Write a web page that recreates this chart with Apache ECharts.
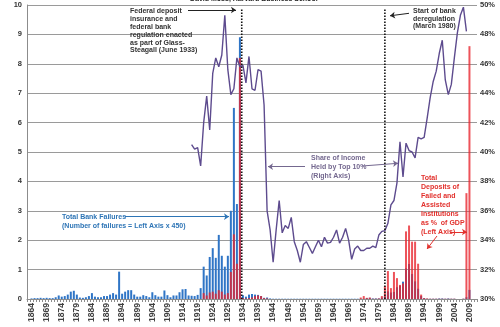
<!DOCTYPE html>
<html><head><meta charset="utf-8">
<script src="https://cdn.jsdelivr.net/npm/echarts@6/dist/echarts.min.js"></script>
<style>html,body{margin:0;padding:0;background:#fff}#c{width:500px;height:327px}</style>
</head><body><div id="c"></div>
<script>
// ---- axis categories ----
const firstYear = 1863, lastYear = 2011;
const years = [];
for (let y = firstYear; y <= lastYear; y++) years.push(String(y));
const leftTicks = [0, 10, 1];      // min, max, step (left axis)
const rightTicks = [30, 50, 2];    // min, max, step (right axis, %)

// ---- Total bank failures (number / 450), 1864..2009 ----
const failuresStart = 1864;
const bankFailures = [
  0.02,0.03,0.03,0.04,0.03,0.04,0.03,0.03,0.06,0.12, // 1864-1873
  0.08,0.10,0.15,0.25,0.28,0.15,0.05,0.04,0.06,0.10, // 1874-1883
  0.20,0.08,0.06,0.06,0.10,0.10,0.15,0.20,0.15,0.93, // 1884-1893
  0.18,0.25,0.30,0.30,0.15,0.08,0.08,0.13,0.10,0.06, // 1894-1903
  0.23,0.13,0.08,0.08,0.29,0.13,0.06,0.12,0.12,0.23, // 1904-1913
  0.33,0.34,0.12,0.11,0.10,0.14,0.37,1.10,0.80,1.43, // 1914-1923
  1.73,1.40,2.18,1.47,1.10,1.47,3.00,6.50,3.23,8.90, // 1924-1933
  0.13,0.08,0.15,0.17,0.15,0.14,0.10,0.04,0.05,0.02, // 1934-1943
  0.01,0.01,0.01,0.01,0.01,0.01,0.01,0.01,0.01,0.01, // 1944-1953
  0.01,0.01,0.01,0.01,0.01,0.01,0.01,0.01,0.01,0.01, // 1954-1963
  0.01,0.01,0.01,0.01,0.01,0.01,0.01,0.01,0.01,0.01, // 1964-1973
  0.01,0.03,0.04,0.02,0.02,0.02,0.05,0.09,0.26,0.22, // 1974-1983
  0.24,0.40,0.45,0.59,1.04,1.19,0.85,0.60,0.35,0.10, // 1984-1993
  0.03,0.01,0.01,0.01,0.01,0.02,0.02,0.01,0.02,0.01, // 1994-2003
  0.01,0.00,0.00,0.01,0.06,0.31                      // 2004-2009
];

// ---- Deposits of failed & assisted institutions, % of GDP, 1921..2009 ----
const depositsStart = 1921;
const failedDeposits = [
  0.20,0.12,0.22,0.25,0.18,0.30,0.25,0.15,0.20,0.92, // 1921-1930
  2.20,1.20,8.20,0.03,0.02,0.03,0.05,0.10,0.12,0.10, // 1931-1940
  0.03,0.02,0.00,0.00,0.00,0.00,0.00,0.00,0.00,0.00, // 1941-1950
  0.00,0.00,0.00,0.00,0.00,0.00,0.00,0.00,0.00,0.00, // 1951-1960
  0.00,0.00,0.00,0.00,0.00,0.00,0.00,0.00,0.00,0.00, // 1961-1970
  0.00,0.00,0.05,0.10,0.04,0.05,0.01,0.01,0.02,0.10, // 1971-1980
  0.44,0.95,0.37,0.92,0.71,0.48,0.53,2.30,2.50,1.95, // 1981-1990
  1.95,1.20,0.15,0.03,0.02,0.01,0.01,0.01,0.01,0.01, // 1991-2000
  0.01,0.01,0.01,0.01,0.00,0.00,0.01,3.60,8.60       // 2001-2009
];

// ---- Share of income held by top 10% (%), 1917..2008 ----
const incomeStart = 1917;
const topTenShare = [
  40.5,40.2,40.3,39.05,42.0,43.8,41.5,45.35,46.4,45.8, // 1917-1926
  46.6,49.3,45.6,43.9,44.3,46.4,45.8,45.9,44.7,46.5,   // 1927-1936
  44.3,44.2,45.6,45.5,43.2,36.0,34.7,32.5,34.7,36.7,   // 1937-1946
  34.5,35.0,34.8,35.55,33.9,33.3,32.5,33.7,33.9,33.5,  // 1947-1956
  33.1,33.55,34.0,33.55,34.2,33.8,33.85,34.2,34.7,33.8,// 1957-1966
  34.2,34.8,34.0,32.7,33.4,33.6,33.3,33.3,33.45,33.45, // 1967-1976
  33.6,33.5,34.35,34.6,34.65,35.15,36.4,36.7,37.9,40.7,// 1977-1986
  38.3,40.6,40.1,40.0,39.6,41.0,40.9,41.0,42.3,43.7,   // 1987-1996
  44.8,45.5,46.7,47.6,44.9,43.9,44.6,46.4,48.1,49.3,   // 1997-2006
  49.85,48.2                                          // 2007-2008
];

// ---- policy dates (dotted lines) ----
const policyYears = [1933.6, 1981.0];

function align(start, arr) {
  return years.map(y => {
    const i = Number(y) - start;
    return (i >= 0 && i < arr.length) ? arr[i] : null;
  });
}

const FONT = '"Liberation Sans", Arial, sans-serif';
const chart = echarts.init(document.getElementById('c'), null, {renderer: 'canvas'});

function arrow(x1, y1, x2, y2, color) {
  return [
    {x: x1, y: y1, symbol: 'none', lineStyle: {color: color, width: 1, type: 'solid'}},
    {x: x2, y: y2, symbol: 'arrow', symbolSize: 5}
  ];
}

const option = {
  animation: false,
  backgroundColor: '#fff',
  grid: {left: 27, right: 23, top: 5, bottom: 28, containLabel: false},
  xAxis: [{
    type: 'category', data: years, boundaryGap: true,
    axisLine: {lineStyle: {color: '#8c8c8c', width: 1}},
    axisTick: {show: true, interval: 0, length: 3, lineStyle: {color: '#8c8c8c'}},
    axisLabel: {
      interval: (i, v) => (Number(v) - 1864) % 5 === 0,
      rotate: 90, fontSize: 8.5, fontWeight: 'bold', color: '#404040',
      fontFamily: FONT, margin: 4
    },
    splitLine: {show: false}
  }, {
    type: 'value', min: firstYear - 0.5, max: lastYear + 0.5, show: false
  }],
  yAxis: [{
    type: 'value', min: leftTicks[0], max: leftTicks[1], interval: leftTicks[2],
    position: 'left',
    axisLine: {show: true, lineStyle: {color: '#8c8c8c'}},
    axisTick: {show: false},
    axisLabel: {fontSize: 7.5, fontWeight: 'bold', color: '#333', fontFamily: FONT, margin: 5},
    splitLine: {lineStyle: {color: '#9a9a9a', width: 1}}
  }, {
    type: 'value', min: rightTicks[0], max: rightTicks[1], interval: rightTicks[2],
    position: 'right',
    axisLine: {show: false}, axisTick: {show: false},
    axisLabel: {formatter: '{value}%', fontSize: 7.5, fontWeight: 'bold', color: '#333', fontFamily: FONT, margin: 3},
    splitLine: {show: false}
  }],
  series: [{
    name: 'Total Bank Failures', type: 'bar', xAxisIndex: 0, yAxisIndex: 0,
    data: align(failuresStart, bankFailures), barWidth: 2,
    itemStyle: {color: '#2f75c6'}
  }, {
    name: 'Deposits % GDP', type: 'bar', xAxisIndex: 0, yAxisIndex: 0,
    data: align(depositsStart, failedDeposits), barWidth: 2, barGap: '-100%',
    itemStyle: {color: '#e8232c', opacity: 0.78}
  }, {
    name: 'Top 10% share', type: 'line', xAxisIndex: 0, yAxisIndex: 1,
    data: align(incomeStart, topTenShare), showSymbol: false, symbol: 'none',
    connectNulls: false,
    lineStyle: {color: '#5d4b8e', width: 1.4}, z: 5
  }].concat(policyYears.map((py, k) => ({
    name: 'policy' + k, type: 'line', xAxisIndex: 1, yAxisIndex: 0,
    data: [[py, 0], [py, 9.9]], showSymbol: false, symbol: 'none',
    lineStyle: {color: '#111', width: 1.6, type: [1.6, 1.4]}, z: 6,
    markLine: k === 0 ? {
      silent: true, animation: false, symbol: ['none', 'arrow'], symbolSize: 5,
      label: {show: false},
      data: [
        arrow(188, 10, 236, 10, '#222'),
        arrow(409, 13.3, 390, 15.8, '#222'),
        arrow(305, 166.7, 268, 166.7, '#74688f'),
        arrow(362, 166, 398, 163.3, '#74688f'),
        arrow(125, 216.7, 229, 216.7, '#2e75b6'),
        arrow(450, 232, 467, 232, '#e2312d'),
        arrow(437, 236, 427, 249, '#e2312d')
      ]
    } : undefined
  })))
};
chart.setOption(option);

const txt = (left, top, text, color, size, lh) => ({
  type: 'text', left: left, top: top, silent: true, z: 100,
  style: {text: text, fill: color, font: 'bold ' + size + 'px ' + FONT, lineHeight: lh}
});
chart.setOption({graphic: [
  txt(190, -5, 'David Moss, Harvard Business School', '#222', 7, 8),
  txt(130, 7.5, 'Federal deposit\ninsurance and\nfederal bank\nregulation enacted\nas part of Glass-\nSteagall (June 1933)', '#333', 7, 7.8),
  txt(413, 7, 'Start of bank\nderegulation\n(March 1980)', '#333', 7, 7.8),
  txt(311, 154, 'Share of Income\nHeld by Top 10%\n(Right Axis)', '#74688f', 7, 8.7),
  txt(62, 212.5, 'Total Bank Failures\n(Number of failures = Left Axis x 450)', '#2e75b6', 7, 9),
  txt(421, 174, 'Total\nDeposits of\nFailed and\nAssisted\nInstitutions\nas %  of GDP\n(Left Axis)', '#e2312d', 7, 9)
]});
</script></body></html>
